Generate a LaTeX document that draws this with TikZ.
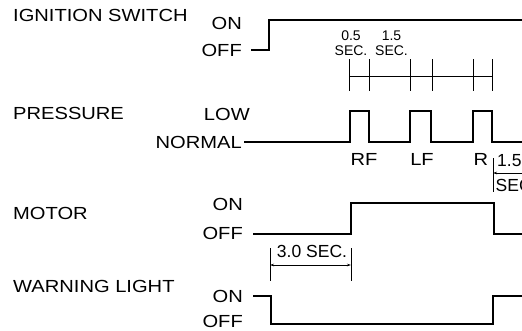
\documentclass[tikz,border=0pt]{standalone}
\usepackage{fontspec}
\setmainfont{Liberation Sans}
\newfontfamily\widefont[FakeStretch=1.15]{Liberation Sans}
\usetikzlibrary{arrows.meta}
\begin{document}
\begin{tikzpicture}[x=1pt,y=-1pt,
  sig/.style={line width=1.3pt, line join=miter},
  dim/.style={line width=0.9pt},
  lbl/.style={font=\widefont\fontsize{17.5}{17.5}\selectfont, inner sep=0pt},
  small/.style={font=\fontsize{14}{15}\selectfont, inner sep=0pt, align=center},
  mid/.style={font=\fontsize{17.5}{17.5}\selectfont, inner sep=0pt},
]
\useasboundingbox (0,0) rectangle (522,330);
\clip (0,0) rectangle (522,330);
% left labels
\node[lbl, anchor=west] (ign) at (13,15) {IGNITION SWITCH};
\node[lbl, anchor=west] (pres) at (13,113) {PRESSURE};
\node[lbl, anchor=west] (mot) at (13,213) {MOTOR};
\node[lbl, anchor=west] (warn) at (13,286) {WARNING LIGHT};
% level labels
\node[lbl, anchor=east] (ignon) at (242,23) {ON};
\node[lbl, anchor=east] (ignoff) at (242,50) {OFF};
\node[lbl, anchor=east] (low) at (250,114) {LOW};
\node[lbl, anchor=east] (normal) at (242,142) {NORMAL};
\node[lbl, anchor=east] (moton) at (243,204.5) {ON};
\node[lbl, anchor=east] (motoff) at (243,233) {OFF};
\node[lbl, anchor=east] (wlon) at (243,296) {ON};
\node[lbl, anchor=east] (wloff) at (243,321) {OFF};
% signals
\draw[sig] (251,50) -- (269,50) -- (269,20) -- (522,20);
\draw[sig] (244,142) -- (350,142) -- (350,111) -- (369,111) -- (369,142)
  -- (410,142) -- (410,111) -- (431,111) -- (431,142)
  -- (473,142) -- (473,111) -- (492,111) -- (492,142) -- (522,142);
\draw[sig] (253,234) -- (351,234) -- (351,203) -- (494,203) -- (494,234) -- (522,234);
\draw[sig] (253,296) -- (271,296) -- (271,324) -- (493,324) -- (493,296) -- (522,296);
% pressure pulse labels
\node[lbl] (rf) at (364,159) {RF};
\node[lbl] (lf) at (422,159) {LF};
\node[lbl] (r) at (481,159) {R};
% time scale
\draw[dim] (349,76) -- (492,76);
\foreach \xx in {349,369,410,432,473,492} \draw[dim] (\xx,59) -- (\xx,91);
\node[small] (t05) at (351,43.5) {0.5\\SEC.};
\node[small] (t15) at (391.5,43.5) {1.5\\SEC.};
% 3.0 sec dimension
\draw[dim] (270,248) -- (270,281);
\draw[dim] (351,248) -- (351,281);
\draw[dim, {Stealth[length=4pt,width=2.5pt]}-{Stealth[length=4pt,width=2.5pt]}] (270,265) -- (351,265);
\node[mid] (t30) at (312,251) {3.0 SEC.};
% 1.5 sec dimension at right
\draw[dim] (493,158) -- (493,192);
\draw[dim, {Stealth[length=4pt,width=2.5pt]}-] (493,173) -- (522,173);
\node[mid, anchor=west] (t15r) at (497,160.5) {1.5};
\node[mid, anchor=west] (s15r) at (495.5,185) {SEC.};
\end{tikzpicture}
\end{document}
